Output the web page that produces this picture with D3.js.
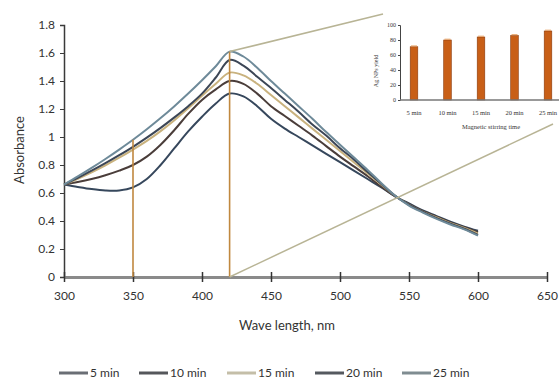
<!DOCTYPE html>
<html><head><meta charset="utf-8">
<script src="https://cdn.jsdelivr.net/npm/d3@7/dist/d3.min.js"></script>
<style>body{margin:0;background:#fff}svg{display:block}</style>
</head><body><svg id="c" width="559" height="382"></svg>
<script>
const wavelengths = d3.range(300, 601, 10);
const s5  = [0.66,0.643,0.628,0.618,0.618,0.64,0.70,0.80,0.92,1.04,1.145,1.24,1.31,1.29,1.22,1.13,1.06,1.00,0.94,0.88,0.82,0.76,0.70,0.64,0.575,0.525,0.475,0.435,0.395,0.36,0.33];
const s10 = [0.66,0.678,0.70,0.727,0.76,0.80,0.86,0.945,1.05,1.165,1.265,1.34,1.40,1.38,1.31,1.22,1.15,1.08,1.01,0.935,0.86,0.79,0.72,0.645,0.575,0.52,0.47,0.43,0.39,0.355,0.32];
const s15 = [0.66,0.702,0.748,0.798,0.852,0.91,0.972,1.042,1.12,1.205,1.295,1.38,1.46,1.44,1.38,1.30,1.22,1.14,1.06,0.98,0.90,0.82,0.74,0.66,0.58,0.515,0.465,0.425,0.385,0.35,0.31];
const s20 = [0.66,0.708,0.759,0.813,0.87,0.93,0.995,1.065,1.14,1.22,1.31,1.425,1.55,1.51,1.43,1.35,1.265,1.18,1.09,1.01,0.92,0.84,0.75,0.665,0.58,0.515,0.465,0.42,0.38,0.345,0.30];
const s25 = [0.66,0.718,0.779,0.843,0.91,0.98,1.055,1.135,1.22,1.31,1.405,1.505,1.61,1.575,1.495,1.40,1.31,1.22,1.13,1.035,0.945,0.855,0.765,0.67,0.58,0.51,0.46,0.415,0.375,0.34,0.295];
const seriesNames = ["5 min","10 min","15 min","20 min","25 min"];
const seriesValues = [s5, s10, s15, s20, s25];
const seriesColors = ["#36475c","#4a3d3a","#c9b27e","#3c4656","#6e8a99"];
const legendColors = ["#6a6e75","#55575b","#c4bea8","#55595f","#7f8c91"];
const xTicks = [300,350,400,450,500,550,600,650];
const yTicks = [0,0.2,0.4,0.6,0.8,1,1.2,1.4,1.6,1.8];
const markWavelengths = [350, 420];
const insetCategories = ["5 min","10 min","15 min","20 min","25 min"];
const insetValues = [71, 80, 84, 86, 92];
const insetYTicks = [0,20,40,60,80,100];

const svg = d3.select("#c");
const x = d3.scaleLinear().domain([300,650]).range([64,547]);
const y = d3.scaleLinear().domain([0,1.8]).range([277,25]);
const font = "Lato, 'Open Sans', sans-serif";

// y axis
const ya = svg.append("g").attr("transform","translate(64,0)")
  .call(d3.axisLeft(y).tickValues(yTicks).tickSize(4).tickPadding(5).tickFormat(d=>d3.format("")(+d.toFixed(1))));
ya.select(".domain").attr("stroke","#3a3a3a").attr("stroke-width",1.5);
ya.selectAll(".tick line").attr("stroke","#3a3a3a");
ya.selectAll("text").attr("font-family",font).attr("font-size",12).attr("fill","#333");

// x axis
const xa = svg.append("g").attr("transform","translate(0,277)")
  .call(d3.axisBottom(x).tickValues(xTicks).tickSize(5).tickSizeOuter(0).tickPadding(9));
xa.select(".domain").attr("stroke","#8a8a8a").attr("stroke-width",3);
xa.selectAll(".tick line").attr("stroke","#333").attr("stroke-width",1.5).attr("y1",-5);
xa.selectAll("text").attr("font-family",font).attr("font-size",12).attr("fill","#333");

svg.append("text").attr("x",287).attr("y",330).attr("text-anchor","middle")
  .attr("font-family",font).attr("font-size",13).attr("fill","#333").text("Wave length, nm");
svg.append("text").attr("transform","translate(24,150) rotate(-90)").attr("text-anchor","middle")
  .attr("font-family",font).attr("font-size",13).attr("fill","#333").text("Absorbance");

// series
const line = d3.line().x((d,i)=>x(wavelengths[i])).y(d=>y(d)).curve(d3.curveCatmullRom.alpha(0.5));
seriesValues.forEach((vals,k)=>{
  svg.append("path").datum(vals).attr("d",line).attr("fill","none")
    .attr("stroke",seriesColors[k]).attr("stroke-width",2);
});

// vertical marker lines (to top curve)
const topSeries = s25;
markWavelengths.forEach(w=>{
  const i = wavelengths.indexOf(w);
  svg.append("line").attr("x1",x(w)).attr("x2",x(w)).attr("y1",y(0)).attr("y2",y(topSeries[i]))
    .attr("stroke","#c0883f").attr("stroke-width",1.6);
});

// connector lines to inset
const pk = wavelengths.indexOf(420);
svg.append("line").attr("x1",x(420)).attr("y1",y(topSeries[pk])).attr("x2",383).attr("y2",14)
  .attr("stroke","#b8b495").attr("stroke-width",1.5);
svg.append("line").attr("x1",x(420)).attr("y1",y(0)).attr("x2",553).attr("y2",124)
  .attr("stroke","#b8b495").attr("stroke-width",1.5);

// inset bar chart
const serif = "'Liberation Serif', 'DejaVu Serif', serif";
const ix = d3.scalePoint().domain(insetCategories).range([414,548]);
const iy = d3.scaleLinear().domain([0,100]).range([100,25]);
const ig = svg.append("g");
const iya = ig.append("g").attr("transform","translate(400,0)")
  .call(d3.axisLeft(iy).tickValues(insetYTicks).tickSize(2).tickPadding(2));
iya.select(".domain").attr("stroke","#444");
iya.selectAll("text").attr("font-family",serif).attr("font-size",6).attr("fill","#333");
iya.selectAll(".tick line").attr("stroke","#444");
ig.selectAll("rect.bar").data(insetValues).join("rect")
  .attr("x",(d,i)=>ix(insetCategories[i])-3.8).attr("width",7.6)
  .attr("y",d=>iy(d)).attr("height",d=>iy(0)-iy(d))
  .attr("fill","#c85f17").attr("stroke","#8a3b0c").attr("stroke-width",0.6);
ig.selectAll("line.err").data(insetValues).join("line")
  .attr("x1",(d,i)=>ix(insetCategories[i])-3).attr("x2",(d,i)=>ix(insetCategories[i])+3)
  .attr("y1",d=>iy(d)-0.8).attr("y2",d=>iy(d)-0.8).attr("stroke","#e8a060").attr("stroke-width",1);
ig.append("line").attr("x1",400).attr("x2",559).attr("y1",iy(0)).attr("y2",iy(0))
  .attr("stroke","#777").attr("stroke-width",1.6);
ig.selectAll("text.cat").data(insetCategories).join("text")
  .attr("x",d=>ix(d)).attr("y",115).attr("text-anchor","middle")
  .attr("font-family",serif).attr("font-size",6.5).attr("fill","#333").text(d=>d);
ig.append("text").attr("x",491).attr("y",129).attr("text-anchor","middle")
  .attr("font-family",serif).attr("font-size",6.5).attr("fill","#333").text("Magnetic stirring time");
ig.append("text").attr("transform","translate(378,71) rotate(-90)").attr("text-anchor","middle")
  .attr("font-family",serif).attr("font-size",6).attr("fill","#333").text("Ag NPs yield");

// legend
const legendX = [59,139,227,315,402];
seriesNames.forEach((n,k)=>{
  const g = svg.append("g").attr("transform",`translate(${legendX[k]},373)`);
  g.append("line").attr("x1",0).attr("x2",29).attr("y1",0).attr("y2",0)
    .attr("stroke",legendColors[k]).attr("stroke-width",3);
  g.append("text").attr("x",31).attr("y",4).attr("font-family",font).attr("font-size",12)
    .attr("fill","#333").text(n);
});
</script></body></html>
